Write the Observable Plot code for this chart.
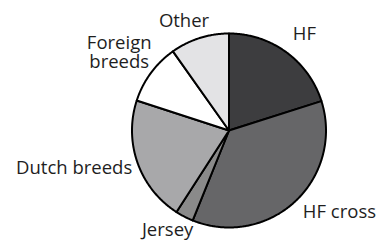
<!DOCTYPE html>
<html><head><meta charset="utf-8">
<script src="https://cdn.jsdelivr.net/npm/d3@7"></script>
<script src="https://cdn.jsdelivr.net/npm/@observablehq/plot@0.6"></script>
<style>body{margin:0;background:#fff}</style>
</head><body><div id="chart"></div>
<script>
// data
const categories = ["HF", "HF cross", "Jersey", "Dutch breeds", "Foreign breeds", "Other"];
const labels = ["HF", "HF cross", "Jersey", "Dutch breeds", "Foreign\nbreeds", "Other"];
const shares = [20.1, 36.0, 3.0, 20.9, 10.2, 9.8];
// styles / layout
const fills = ["#3d3d3f", "#666668", "#8a8a8a", "#a8a8aa", "#ffffff", "#e3e3e5"];
const labelRadius = [1.23, 1.15, 1.16, 1.07, 1.38, 1.19];
const labelAnchor = ["middle", "start", "end", "end", "middle", "middle"];
const labelDx = [5, -2, 16, 1, -2, -10];
const labelDy = [0, 0, 0, 3, 1, 0];

const data = categories.map((c, i) => ({category: c, label: labels[i], value: shares[i]}));
const arcs = d3.pie().sort(null).value(d => d.value)(data);

// slice outlines (unit circle, y up)
const pts = [];
for (const a of arcs) {
  const c = a.data.category;
  pts.push({category: c, x: 0, y: 0});
  const n = Math.max(2, Math.ceil((a.endAngle - a.startAngle) / 0.01));
  for (let k = 0; k <= n; k++) {
    const t = a.startAngle + (a.endAngle - a.startAngle) * k / n;
    pts.push({category: c, x: Math.sin(t), y: Math.cos(t)});
  }
}

const textMarks = arcs.map((a, i) => {
  const mid = (a.startAngle + a.endAngle) / 2;
  const r = labelRadius[i];
  return Plot.text([{x: r * Math.sin(mid), y: r * Math.cos(mid), label: a.data.label}], {
    x: "x", y: "y", text: "label",
    textAnchor: labelAnchor[i], dx: labelDx[i], dy: labelDy[i],
    fontSize: 18.5, lineHeight: 1.02, fill: "#1e1e1e"
  });
});

const chart = Plot.plot({
  width: 380, height: 246, margin: 0,
  style: {fontFamily: "'Open Sans', sans-serif", background: "#fff"},
  x: {domain: [-1, 1], range: [131.5, 325.5], axis: null},
  y: {domain: [-1, 1], range: [227, 33], axis: null},
  color: {domain: categories, range: fills},
  marks: [
    Plot.line(pts, {x: "x", y: "y", z: "category", fill: "category", stroke: "#000",
      strokeWidth: 2, strokeLinejoin: "round", curve: "linear-closed"}),
    ...textMarks
  ]
});
document.getElementById("chart").appendChild(chart);
</script>
</body></html>
